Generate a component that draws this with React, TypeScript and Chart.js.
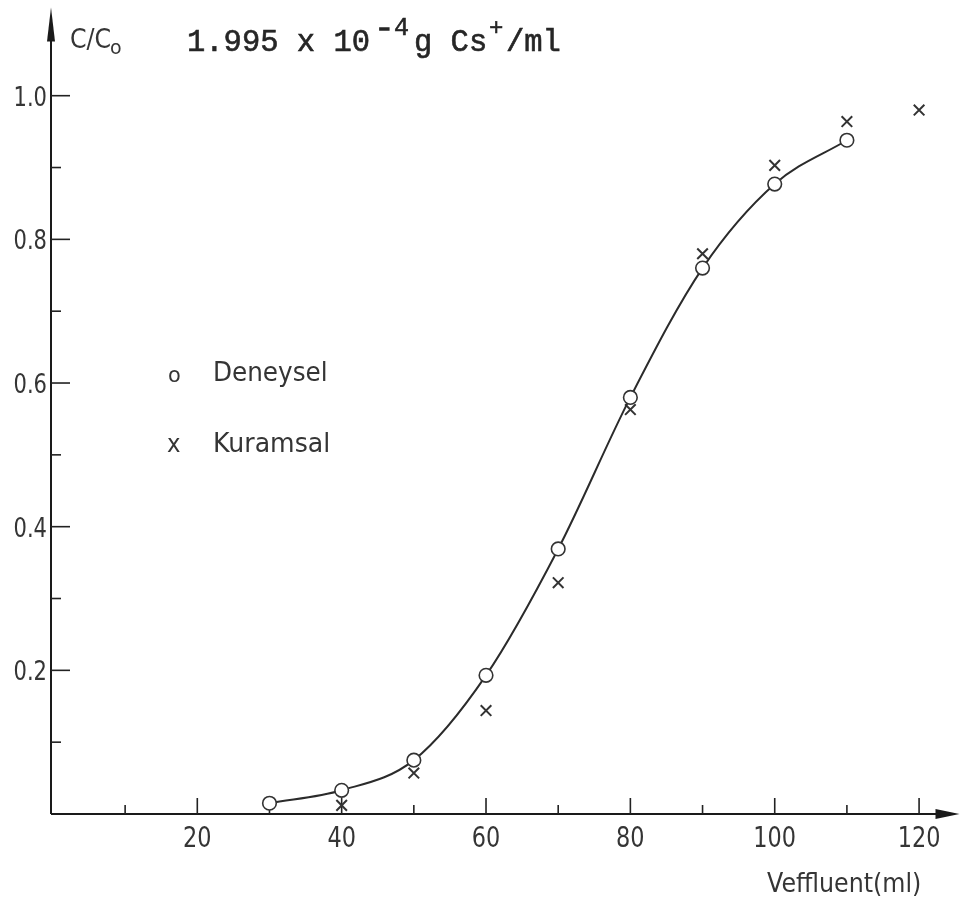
import { useEffect, useRef } from "react";
import { Chart, registerables } from "chart.js";

Chart.register(...registerables);

// ---- data ----
const volumesExp = [30, 40, 50, 60, 70, 80, 90, 100, 110];
const deneysel = [0.015, 0.033, 0.075, 0.193, 0.369, 0.58, 0.76, 0.877, 0.938];
const volumesTheo = [40, 50, 60, 70, 80, 90, 100, 110, 120];
const kuramsal = [0.012, 0.057, 0.144, 0.322, 0.563, 0.78, 0.903, 0.964, 0.98];
const xTickLabels = [20, 40, 60, 80, 100, 120];
const xMinorTicks = [10, 30, 50, 70, 90, 110];
const yTickLabels = [0.2, 0.4, 0.6, 0.8, 1.0];
const yMinorTicks = [0.1, 0.3, 0.5, 0.7, 0.9];

const INK = "#2b2b2b";
const TEXT = "#353535";
const SANS = '"DejaVu Sans", sans-serif';
const MONO = '"Liberation Mono", monospace';

function textN(
  ctx: CanvasRenderingContext2D,
  s: string,
  x: number,
  y: number,
  font: string,
  sx: number,
  align: CanvasTextAlign,
  heavy = 0
) {
  ctx.save();
  ctx.font = font;
  ctx.textAlign = align;
  ctx.textBaseline = "alphabetic";
  ctx.translate(x, y);
  ctx.scale(sx, 1);
  ctx.fillText(s, 0, 0);
  if (heavy > 0) {
    ctx.lineWidth = heavy;
    ctx.strokeStyle = ctx.fillStyle as string;
    ctx.strokeText(s, 0, 0);
  }
  ctx.restore();
}

const axesPlugin = {
  id: "handAxes",
  beforeDatasetsDraw(chart: any) {
    const ctx: CanvasRenderingContext2D = chart.ctx;
    const xs = chart.scales.x;
    const ys = chart.scales.y;
    const area = chart.chartArea;
    const ax = area.left;
    const y0 = ys.getPixelForValue(0);

    ctx.save();
    ctx.strokeStyle = "#1a1a1a";
    ctx.fillStyle = "#1a1a1a";
    ctx.lineWidth = 2;
    ctx.lineCap = "butt";

    // y axis
    ctx.beginPath();
    ctx.moveTo(ax, y0);
    ctx.lineTo(ax, area.top + 20);
    ctx.stroke();
    ctx.beginPath();
    ctx.moveTo(ax, area.top - 2);
    ctx.lineTo(ax - 4, area.top + 32);
    ctx.lineTo(ax + 4, area.top + 32);
    ctx.closePath();
    ctx.fill();

    // x axis
    ctx.beginPath();
    ctx.moveTo(ax, y0);
    ctx.lineTo(area.right - 12, y0);
    ctx.stroke();
    ctx.beginPath();
    ctx.moveTo(area.right - 24, y0 - 5);
    ctx.lineTo(area.right, y0);
    ctx.lineTo(area.right - 24, y0 + 5);
    ctx.closePath();
    ctx.fill();

    // x ticks
    ctx.lineWidth = 1.6;
    ctx.strokeStyle = "#222";
    for (const v of xTickLabels) {
      const px = xs.getPixelForValue(v);
      ctx.beginPath();
      ctx.moveTo(px, y0);
      ctx.lineTo(px, y0 - 16);
      ctx.stroke();
    }
    for (const v of xMinorTicks) {
      const px = xs.getPixelForValue(v);
      ctx.beginPath();
      ctx.moveTo(px, y0);
      ctx.lineTo(px, y0 - 9);
      ctx.stroke();
    }
    // y ticks
    for (const v of yTickLabels) {
      const py = ys.getPixelForValue(v);
      ctx.beginPath();
      ctx.moveTo(ax, py);
      ctx.lineTo(ax + 19, py);
      ctx.stroke();
    }
    for (const v of yMinorTicks) {
      const py = ys.getPixelForValue(v);
      ctx.beginPath();
      ctx.moveTo(ax, py);
      ctx.lineTo(ax + 10, py);
      ctx.stroke();
    }

    // tick labels
    ctx.fillStyle = TEXT;
    for (const v of xTickLabels) {
      const px = xs.getPixelForValue(v);
      textN(ctx, String(v), px, y0 + 33, `28px ${SANS}`, 0.8, "center");
    }
    for (const v of yTickLabels) {
      const py = ys.getPixelForValue(v);
      textN(ctx, v.toFixed(1), ax - 4, py + 10, `27px ${SANS}`, 0.78, "right");
    }

    // axis labels / title
    textN(ctx, "C/C", 70, 48, `27px ${SANS}`, 0.88, "left");
    textN(ctx, "o", 110, 54, `20px ${SANS}`, 0.95, "left");

    ctx.fillStyle = "#262626";
    textN(ctx, "1.995 x 10", 187, 51, `30.5px ${MONO}`, 1, "left", 0.6);
    textN(ctx, "-", 375, 36, `26px ${MONO}`, 1.2, "left", 1.6);
    textN(ctx, "4", 394, 35, `25px ${MONO}`, 1, "left", 0.6);
    textN(ctx, "g Cs", 414, 51, `30.5px ${MONO}`, 1, "left", 0.6);
    textN(ctx, "+", 489, 35, `24px ${MONO}`, 1, "left", 0.5);
    textN(ctx, "/ml", 506, 51, `30.5px ${MONO}`, 1, "left", 0.6);

    ctx.fillStyle = TEXT;
    textN(ctx, "Veffluent(ml)", 767, 892, `27px ${SANS}`, 0.88, "left");

    // legend
    textN(ctx, "o", 168, 382, `22px ${SANS}`, 0.95, "left");
    textN(ctx, "Deneysel", 213, 381, `26px ${SANS}`, 0.95, "left");
    textN(ctx, "x", 167, 452, `24px ${SANS}`, 0.95, "left");
    textN(ctx, "Kuramsal", 213, 452, `26px ${SANS}`, 0.97, "left");

    ctx.restore();
  },
};

export default function App() {
  const ref = useRef<HTMLCanvasElement>(null);
  useEffect(() => {
    const canvas = ref.current!;
    const chart = new Chart(canvas, {
      type: "line",
      data: {
        datasets: [
          {
            label: "Deneysel",
            data: volumesExp.map((x, i) => ({ x, y: deneysel[i] })),
            borderColor: INK,
            borderWidth: 2,
            cubicInterpolationMode: "monotone",
            pointStyle: "circle",
            pointRadius: 6.8,
            pointBackgroundColor: "#ffffff",
            pointBorderColor: "#333",
            pointBorderWidth: 1.6,
            clip: false,
            order: 1,
          } as any,
          {
            label: "Kuramsal",
            data: volumesTheo.map((x, i) => ({ x, y: kuramsal[i] })),
            showLine: false,
            pointStyle: "crossRot",
            pointRadius: 7.5,
            pointBorderColor: "#333",
            pointBorderWidth: 2,
            clip: false,
            order: 2,
          } as any,
        ],
      },
      options: {
        animation: false,
        responsive: false,
        events: [],
        layout: { padding: { left: 51, right: 1, top: 6, bottom: 89 } },
        scales: {
          x: { type: "linear", min: -0.27, max: 125.6, display: false },
          y: { type: "linear", min: 0, max: 1.12, display: false },
        },
        plugins: {
          legend: { display: false },
          tooltip: { enabled: false },
        },
      },
      plugins: [axesPlugin],
    });
    return () => chart.destroy();
  }, []);

  return (
    <div
      style={{
        position: "fixed",
        left: 0,
        top: 0,
        width: 969,
        height: 903,
        background: "#ffffff",
      }}
    >
      <canvas ref={ref} width={969} height={903} />
    </div>
  );
}
